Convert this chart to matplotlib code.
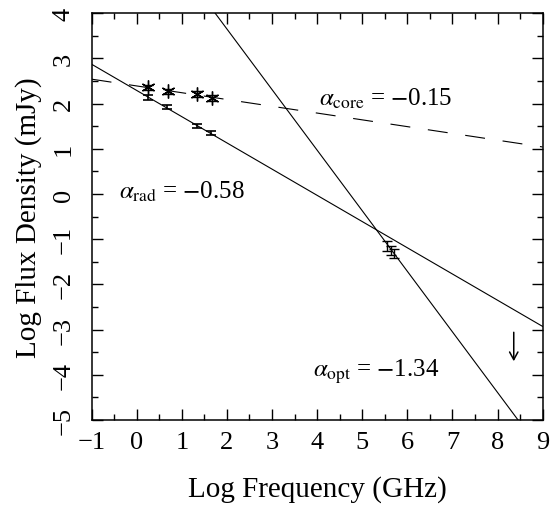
import numpy as np
import matplotlib
matplotlib.use("Agg")
import matplotlib.pyplot as plt
from matplotlib.ticker import MultipleLocator

plt.rcParams['font.family'] = ['Liberation Serif', 'DejaVu Serif']
plt.rcParams['mathtext.fontset'] = 'stix'

# radio points (solid line fit)
rad_x = [0.24, 0.68, 1.34, 1.65]
rad_y = [2.14, 1.92, 1.50, 1.35]
rad_err = [0.05, 0.04, 0.04, 0.04]

# core points (stars, dashed fit)
core_x = [0.24, 0.70, 1.34, 1.67]
core_y = [2.36, 2.27, 2.21, 2.12]
core_err = [0.06, 0.06, 0.06, 0.06]

# optical points
opt_x = [5.56, 5.63, 5.71]
opt_y = [-1.15, -1.24, -1.31]
opt_err = [0.12, 0.1, 0.1]

# upper limit
lim_x = 8.36
lim_y = -3.06
lim_len = 0.64

# fitted lines: (intercept, slope)
fit_rad = (2.29, -0.58)
fit_core = (2.39, -0.15)
fit_opt = (6.33, -1.34)

fig = plt.figure(figsize=(5.52, 5.06), dpi=100)
ax = fig.add_axes([0.166, 0.168, 0.817, 0.804])

xx = np.linspace(-1, 9, 200)
ax.plot(xx, fit_rad[0] + fit_rad[1] * xx, color='black', lw=0.8)
ax.plot(xx, fit_core[0] + fit_core[1] * xx, color='black', lw=0.8,
        dashes=(18, 16))
ax.plot(xx, fit_opt[0] + fit_opt[1] * xx, color='black', lw=0.8)

ax.errorbar(rad_x, rad_y, yerr=rad_err, fmt='none', ecolor='black',
            elinewidth=1.2, capsize=3.5, capthick=1.2)
ax.errorbar(core_x, core_y, yerr=core_err, fmt='none', ecolor='black',
            elinewidth=1.0, capsize=3.5, capthick=1.0)
ax.plot(core_x, core_y, ls='none', marker=(6, 2, 0), ms=10, mew=1.0,
        color='black')
ax.errorbar(opt_x, opt_y, yerr=opt_err, fmt='none', ecolor='black',
            elinewidth=1.0, capsize=3.5, capthick=1.0)

ax.annotate('', xy=(lim_x, lim_y - lim_len), xytext=(lim_x, lim_y),
            arrowprops=dict(arrowstyle='->,head_length=0.55,head_width=0.3',
                            color='black', lw=1.1, shrinkA=0, shrinkB=0))

ax.text(4.05, 2.12, r'$\alpha_{\rm core}$ = $-$0.15', fontsize=18,
        va='center')
ax.text(-0.4, 0.06, r'$\alpha_{\rm rad}$ = $-$0.58', fontsize=18,
        va='center')
ax.text(3.9, -3.92, r'$\alpha_{\rm opt}$ = $-$1.34', fontsize=18,
        va='center')

ax.set_xlim(-1, 9)
ax.set_ylim(-5, 4)
ax.xaxis.set_major_locator(MultipleLocator(1))
ax.xaxis.set_minor_locator(MultipleLocator(0.5))
ax.yaxis.set_major_locator(MultipleLocator(1))
ax.yaxis.set_minor_locator(MultipleLocator(0.5))
ax.tick_params(which='both', direction='in', top=True, right=True,
               labelsize=19, width=1.0)
ax.tick_params(which='major', length=8)
ax.tick_params(which='minor', length=4.5)
ax.tick_params(axis='x', pad=8)
ax.tick_params(axis='y', pad=12)
for lab in ax.get_yticklabels():
    lab.set_rotation(90)
    lab.set_va('center')
for sp in ax.spines.values():
    sp.set_linewidth(1.1)

ax.set_xlabel('Log Frequency (GHz)', fontsize=21, labelpad=16)
ax.set_ylabel('Log Flux Density (mJy)', fontsize=21, labelpad=8)

fig.savefig('out.png', dpi=100)
